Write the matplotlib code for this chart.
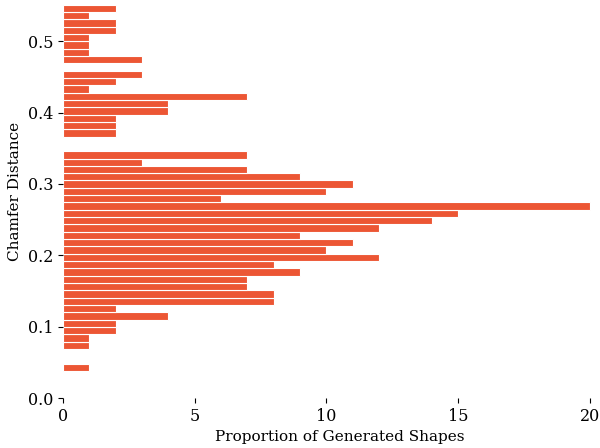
import numpy as np
import matplotlib.pyplot as plt

plt.rcParams['font.family'] = 'DejaVu Serif'

# histogram counts, lowest bin first
counts = [1, 0, 0, 1, 1, 2, 2, 4, 2, 8,
          8, 7, 7, 9, 8, 12, 10, 11, 9, 12,
          14, 15, 20, 6, 10, 11, 9, 7, 3, 7,
          0, 0, 2, 2, 2, 4, 4, 7, 1, 2,
          3, 0, 3, 1, 1, 1, 2, 2, 1, 2]
bin_lo, bin_hi = 0.038, 0.551

edges = np.linspace(bin_lo, bin_hi, len(counts) + 1)

fig = plt.figure(figsize=(6, 4.48), dpi=100)
# the original looks cropped a little on the right and top
ax = fig.add_axes([0.105, 0.1116, 0.922, 0.924])
ax.barh(edges[:-1], counts, height=np.diff(edges), align='edge',
        color='#EC5634', edgecolor='white', linewidth=0.8)

ax.set_xlim(0, 21)
ax.set_ylim(0, 0.58)
ax.set_xticks([0, 5, 10, 15, 20])
ax.set_yticks([0.0, 0.1, 0.2, 0.3, 0.4, 0.5])
for s in ax.spines.values():
    s.set_visible(False)
ax.tick_params(labelsize=11.5)
ax.set_xlabel('Proportion of Generated Shapes', fontsize=11)
ax.set_ylabel('Chamfer Distance', fontsize=11)

plt.savefig('out.png')
